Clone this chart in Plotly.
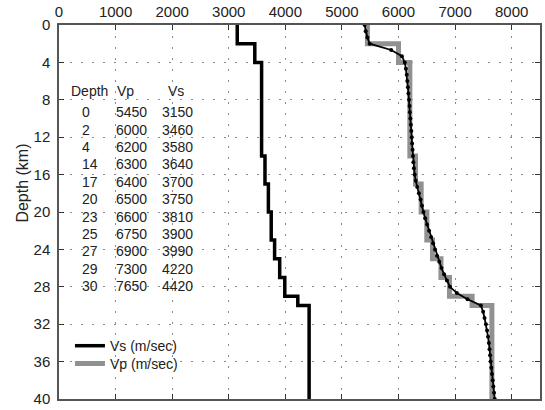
import plotly.graph_objects as go

# ---- data ----
depth = [0, 2, 4, 14, 17, 20, 23, 25, 27, 29, 30]
vp = [5450, 6000, 6200, 6300, 6400, 6500, 6600, 6750, 6900, 7300, 7650]
vs = [3150, 3460, 3580, 3640, 3700, 3750, 3810, 3900, 3990, 4220, 4420]
max_depth = 40

# smooth Vp curve (black line with dots)
curve_depth = [0, 0.67, 1.33, 2.0, 2.67, 3.33, 4.0, 4.67, 5.33, 6.0, 6.67, 7.33, 8.0,
               8.67, 9.33, 10.0, 10.67, 11.33, 12.0, 12.67, 13.33, 14.0, 14.67, 15.33,
               16.0, 16.67, 17.33, 18.0, 18.67, 19.33, 20.0, 20.67, 21.33, 22.0, 22.67,
               23.33, 24.0, 24.67, 25.33, 26.0, 26.67, 27.33, 28.0, 28.67, 29.33, 30.0,
               30.67, 31.33, 32.0, 32.67, 33.33, 34.0, 34.67, 35.33, 36.0, 36.67, 37.33,
               38.0, 38.67, 39.33, 40.0]
curve_vp = [5400, 5420, 5450, 5490, 5870, 6060, 6110, 6130, 6145, 6155, 6165, 6175, 6185,
            6195, 6200, 6210, 6218, 6226, 6234, 6240, 6248, 6255, 6262, 6272,
            6285, 6305, 6330, 6360, 6390, 6415, 6440, 6470, 6505, 6540, 6575,
            6610, 6645, 6680, 6720, 6760, 6805, 6855, 6910, 7030, 7220, 7455,
            7495, 7520, 7545, 7565, 7582, 7597, 7608, 7618, 7628, 7640, 7652,
            7664, 7676, 7688, 7700]

x_ticks = [0, 1000, 2000, 3000, 4000, 5000, 6000, 7000, 8000]
y_ticks = [0, 4, 8, 12, 16, 20, 24, 28, 32, 36, 40]

FONT = "Liberation Sans, Arial, sans-serif"
W, H = 545, 410
ML, MR, MT, MB = 59, 3, 23, 7


def px(xp):
    return (xp - ML) / (W - ML - MR)


def py(yp):
    return 1 - (yp - MT) / (H - MT - MB)


step_depth = depth + [max_depth]

fig = go.Figure()
fig.add_trace(go.Scatter(
    x=vp + [vp[-1]], y=step_depth, mode="lines", line_shape="vh",
    line=dict(color="#919191", width=5), name="Vp (m/sec)", legend="legend2"))
fig.add_trace(go.Scatter(
    x=vs + [vs[-1]], y=step_depth, mode="lines", line_shape="vh",
    line=dict(color="#000000", width=3.5), name="Vs (m/sec)", legend="legend"))
fig.add_trace(go.Scatter(
    x=curve_vp, y=curve_depth, mode="lines+markers",
    line=dict(color="#000000", width=1.8), marker=dict(color="#000000", size=4),
    showlegend=False))

# data table as text
ann = []
ann.append(dict(text="Depth", x=px(69), y=py(90), xanchor="left"))
ann.append(dict(text="Vp", x=px(115), y=py(90), xanchor="left"))
ann.append(dict(text="Vs", x=px(166), y=py(90), xanchor="left"))
for i, (d, p, s) in enumerate(zip(depth, vp, vs)):
    yy = py(111.7 + 17.66 * i)
    ann.append(dict(text=str(d), x=px(80.5), y=yy, xanchor="left"))
    ann.append(dict(text=str(p), x=px(114), y=yy, xanchor="left"))
    ann.append(dict(text=str(s), x=px(160.5), y=yy, xanchor="left"))
annotations = []
for a in ann:
    a.update(xref="paper", yref="paper", yanchor="middle", showarrow=False,
             font=dict(family=FONT, size=14, color="#222"))
    annotations.append(a)
annotations.append(dict(text="Depth (km)", xref="paper", yref="paper", x=px(22), y=py(184),
                        textangle=-90, showarrow=False, xanchor="center", yanchor="middle",
                        font=dict(family=FONT, size=16, color="#222")))

axis_common = dict(
    showline=True, linecolor="#555", linewidth=1.5, mirror="ticks",
    ticks="inside", ticklen=5, tickwidth=1.2, tickcolor="#333",
    showgrid=True, gridcolor="#8a8a8a", gridwidth=1, griddash="2px,9px",
    zeroline=False, ticklabeloverflow="allow",
    tickfont=dict(family=FONT, size=15, color="#222"),
)

legend_common = dict(xanchor="left", yanchor="top", bgcolor="rgba(0,0,0,0)",
                     itemwidth=30, font=dict(family=FONT, size=14, color="#222"))

fig.update_layout(
    width=W, height=H, margin=dict(l=ML, r=MR, t=MT, b=MB),
    plot_bgcolor="white", paper_bgcolor="white",
    xaxis=dict(range=[0, 8500], side="top", tickvals=x_ticks, **axis_common),
    yaxis=dict(range=[max_depth, 0], tickvals=y_ticks, ticklabelstandoff=4, **axis_common),
    annotations=annotations,
    legend=dict(x=px(70), y=py(333), **legend_common),
    legend2=dict(x=px(70), y=py(351), **legend_common),
    showlegend=True,
)

fig.write_html("out.html", config={"displayModeBar": False},
               post_script="document.body.style.margin='0';")
